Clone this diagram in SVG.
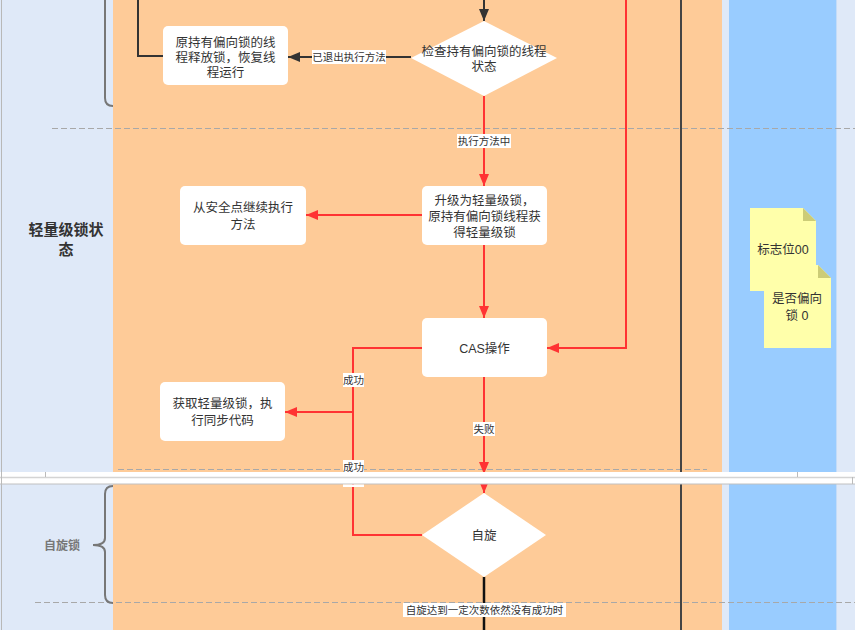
<svg xmlns="http://www.w3.org/2000/svg" width="855" height="630" viewBox="0 0 855 630">
<style>
.t{font-family:"Liberation Sans","Noto Sans CJK SC",sans-serif;fill:#333;font-size:12.5px;text-anchor:middle}
.lbl{font-family:"Liberation Sans","Noto Sans CJK SC",sans-serif;fill:#333;font-size:10.5px;text-anchor:middle}
.box{fill:#fff}
.red{stroke:#ff3333;stroke-width:2;fill:none}
.dark{stroke:#333;stroke-width:2;fill:none}
.dash{stroke:#a8a8a8;stroke-width:1;stroke-dasharray:6 3;fill:none}
.lb{fill:#fff}
.note{fill:#ffffaa}
.fold{fill:#cccc77}
.brace{stroke:#777;stroke-width:2;fill:none}
</style>
<defs>
<marker id="ar" viewBox="0 0 12 10" refX="12" refY="5" markerWidth="12" markerHeight="10" markerUnits="userSpaceOnUse" orient="auto"><path d="M0,0 L12,5 L0,10 z" fill="#ff3333"/></marker>
<marker id="ad" viewBox="0 0 12 10" refX="12" refY="5" markerWidth="12" markerHeight="10" markerUnits="userSpaceOnUse" orient="auto"><path d="M0,0 L12,5 L0,10 z" fill="#333"/></marker>
</defs>

<g id="background">
<rect x="0" y="0" width="855" height="630" fill="#dfe9f8"/>
<line x1="1.5" y1="0" x2="1.5" y2="630" stroke="#b8b8b8" stroke-width="1"/>
<rect x="113" y="0" width="609" height="630" fill="#fecb98"/>
<rect x="729" y="0" width="107" height="630" fill="#99ccff"/>
<line x1="836.5" y1="0" x2="836.5" y2="630" stroke="#c4dcf8" stroke-width="1"/>
<line class="dash" x1="52" y1="128.5" x2="855" y2="128.5"/>
<line class="dash" x1="118" y1="469.5" x2="707" y2="469.5"/>
<line class="dash" x1="35" y1="602.5" x2="855" y2="602.5"/>
<line x1="681" y1="0" x2="681" y2="630" stroke="#444" stroke-width="2"/>
</g>

<g id="lane-labels">
<path class="brace" d="M105,0 V98 Q105,106 113,106"/>
<text font-family="'Liberation Sans','Noto Sans CJK SC',sans-serif" font-size="15" font-weight="bold" fill="#333" text-anchor="middle"><tspan x="66" y="235">轻量级锁状</tspan><tspan x="66" y="255">态</tspan></text>
<path class="brace" d="M113,486 Q105,486 105,494 V538 Q105,545 93,545 Q105,545 105,552 V595 Q105,603 113,603"/>
<text x="62" y="550" font-family="'Liberation Sans','Noto Sans CJK SC',sans-serif" font-size="12" font-weight="bold" fill="#777" text-anchor="middle">自旋锁</text>
</g>

<g id="connectors">
<line class="dark" x1="484" y1="0" x2="484" y2="21" marker-end="url(#ad)"/>
<polyline class="dark" points="163,56 138,56 138,0"/>
<line class="dark" x1="411" y1="57" x2="288" y2="57" marker-end="url(#ad)"/>
<rect class="lb" x="312" y="50" width="74" height="14"/>
<text class="lbl" x="349" y="61">已退出执行方法</text>
<line class="red" x1="484" y1="96" x2="484" y2="186" marker-end="url(#ar)"/>
<rect class="lb" x="457" y="134" width="54" height="14"/>
<text class="lbl" x="484" y="145">执行方法中</text>
<line class="red" x1="422" y1="215" x2="306" y2="215" marker-end="url(#ar)"/>
<line class="red" x1="484" y1="245" x2="484" y2="318" marker-end="url(#ar)"/>
<polyline class="red" points="626,0 626,348 547,348" marker-end="url(#ar)"/>
<polyline class="red" points="422,348 353,348 353,412 285,412" marker-end="url(#ar)"/>
<polyline class="red" points="422,535 353,535 353,412"/>
<line class="red" x1="484" y1="377" x2="484" y2="493" marker-end="url(#ar)"/>
<polygon points="479,462 489,462 484,474" fill="#ff3333"/>
<rect class="lb" x="343" y="373" width="21" height="14"/>
<text class="lbl" x="353.5" y="384">成功</text>
<rect class="lb" x="473" y="422" width="22" height="14"/>
<text class="lbl" x="484" y="433">失败</text>
<rect class="lb" x="343" y="460" width="21" height="14"/>
<text class="lbl" x="353.5" y="471">成功</text>
<line x1="484" y1="577" x2="484" y2="630" stroke="#111" stroke-width="2.5"/>
<rect class="lb" x="403" y="603" width="163" height="14"/>
<text class="lbl" x="484.5" y="614">自旋达到一定次数依然没有成功时</text>
</g>

<g id="node-release">
<rect class="box" x="163" y="26" width="125" height="59" rx="5"/>
<text class="t"><tspan x="225.5" y="47">原持有偏向锁的线</tspan><tspan x="225.5" y="62">程释放锁，恢复线</tspan><tspan x="225.5" y="77">程运行</tspan></text>
</g>

<g id="node-check">
<polygon points="484,21 557,58 484,96 411,58" fill="#fff"/>
<text class="t"><tspan x="484" y="56">检查持有偏向锁的线程</tspan><tspan x="484" y="71">状态</tspan></text>
</g>

<g id="node-upgrade">
<rect class="box" x="422" y="186" width="125" height="59" rx="5"/>
<text class="t"><tspan x="484.5" y="205">升级为轻量级锁，</tspan><tspan x="484.5" y="221">原持有偏向锁线程获</tspan><tspan x="484.5" y="237">得轻量级锁</tspan></text>
</g>

<g id="node-resume">
<rect class="box" x="180" y="186" width="126" height="59" rx="5"/>
<text class="t"><tspan x="243" y="212">从安全点继续执行</tspan><tspan x="243" y="229">方法</tspan></text>
</g>

<g id="node-cas">
<rect class="box" x="422" y="318" width="125" height="59" rx="5"/>
<text class="t" x="484.5" y="352.5">CAS操作</text>
</g>

<g id="node-acquire">
<rect class="box" x="160" y="382" width="125" height="59" rx="5"/>
<text class="t"><tspan x="222.5" y="408">获取轻量级锁，执</tspan><tspan x="222.5" y="425">行同步代码</tspan></text>
</g>

<g id="node-spin">
<polygon points="484,493 546,535 484,577 422,535" fill="#fff"/>
<text class="t" x="484" y="540" font-size="11.5">自旋</text>
</g>

<g id="note-flag">
<path class="note" d="M750,208 H803 L816,221 V291 H750 Z"/>
<path class="fold" d="M803,208 L816,221 H803 Z"/>
<text class="t" x="783" y="254" font-size="11.5">标志位00</text>
</g>

<g id="note-biased">
<path class="note" d="M764,265 H818 L831,278 V348 H764 Z"/>
<path class="fold" d="M818,265 L831,278 H818 Z"/>
<text class="t" font-size="12"><tspan x="797" y="303">是否偏向</tspan><tspan x="797" y="320">锁 0</tspan></text>
</g>

<g id="band">
<rect x="0" y="472" width="855" height="12" fill="#fff"/>
<line x1="0" y1="477.5" x2="855" y2="477.5" stroke="#d4d4d4" stroke-width="1.5"/>
<line x1="0" y1="484" x2="855" y2="484" stroke="#c0c0c0" stroke-width="1"/>
<line x1="45.5" y1="472" x2="45.5" y2="477" stroke="#bbb" stroke-width="1"/>
<line x1="797.5" y1="472" x2="797.5" y2="477" stroke="#bbb" stroke-width="1"/>
<line x1="852.5" y1="477" x2="852.5" y2="484" stroke="#bbb" stroke-width="1"/>
<line x1="1.5" y1="472" x2="1.5" y2="484" stroke="#bbb" stroke-width="1"/>
<rect x="343" y="484.5" width="21" height="2.5" fill="#fff"/>
</g>
</svg>
